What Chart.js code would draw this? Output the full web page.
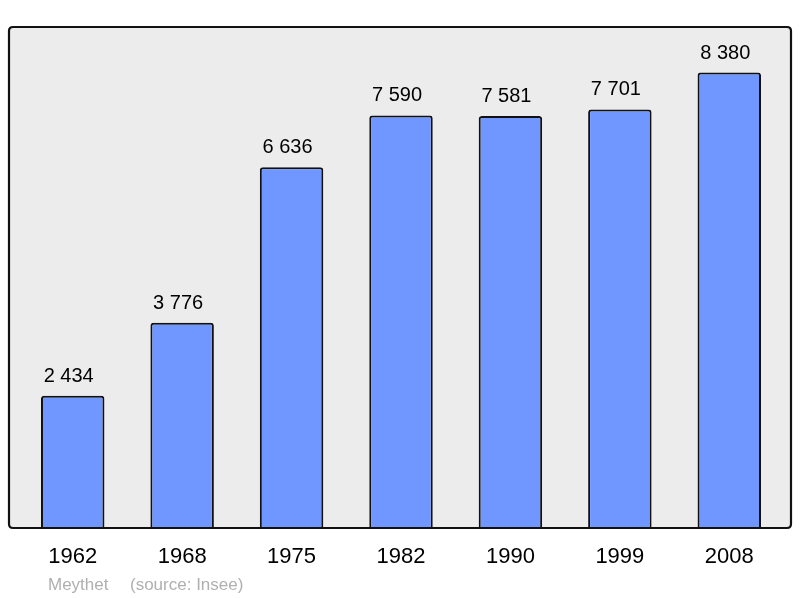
<!DOCTYPE html>
<html>
<head>
<meta charset="utf-8">
<script src="https://cdn.jsdelivr.net/npm/chart.js@4/dist/chart.umd.min.js"></script>
<style>
html,body{margin:0;padding:0;background:#fff;}
#wrap{width:800px;height:598px;}
</style>
</head>
<body>
<div id="wrap"><canvas id="c" width="800" height="598"></canvas></div>
<script>
const years = ["1962","1968","1975","1982","1990","1999","2008"];
const population = [2434, 3776, 6636, 7590, 7581, 7701, 8380];
const footerTexts = ["Meythet", "(source: Insee)"];

function fmt(n){ return String(n).replace(/\B(?=(\d{3})+(?!\d))/g, " "); }

const FONT = "'Liberation Sans', Arial, sans-serif";

const framePlugin = {
  id: 'frame',
  beforeDraw(chart){
    const {ctx, chartArea:a} = chart;
    ctx.save();
    ctx.fillStyle = '#ececec';
    roundRect(ctx, a.left-9, a.top, (a.right+7)-(a.left-9), a.bottom-a.top, 4);
    ctx.fill();
    ctx.restore();
  },
  afterDatasetsDraw(chart){
    const {ctx, chartArea:a} = chart;
    ctx.save();
    ctx.strokeStyle = '#111';
    ctx.lineWidth = 2.2;
    roundRect(ctx, a.left-9, a.top, (a.right+7)-(a.left-9), a.bottom-a.top, 4);
    ctx.stroke();
    // value labels
    const meta = chart.getDatasetMeta(0);
    ctx.fillStyle = '#000';
    ctx.font = '20px ' + FONT;
    ctx.textAlign = 'center';
    ctx.textBaseline = 'alphabetic';
    meta.data.forEach((bar, i) => {
      ctx.fillText(fmt(population[i]), bar.x - 4, bar.y - 14);
    });
    // footer
    ctx.fillStyle = '#b0b0b0';
    ctx.font = '17px ' + FONT;
    ctx.textAlign = 'left';
    ctx.fillText(footerTexts[0], a.left + 30, a.bottom + 62);
    ctx.fillText(footerTexts[1], a.left + 112, a.bottom + 62);
    ctx.restore();
  }
};

function roundRect(ctx, x, y, w, h, r){
  ctx.beginPath();
  ctx.moveTo(x+r, y);
  ctx.lineTo(x+w-r, y);
  ctx.quadraticCurveTo(x+w, y, x+w, y+r);
  ctx.lineTo(x+w, y+h-r);
  ctx.quadraticCurveTo(x+w, y+h, x+w-r, y+h);
  ctx.lineTo(x+r, y+h);
  ctx.quadraticCurveTo(x, y+h, x, y+h-r);
  ctx.lineTo(x, y+r);
  ctx.quadraticCurveTo(x, y, x+r, y);
  ctx.closePath();
}

new Chart(document.getElementById('c'), {
  type: 'bar',
  data: {
    labels: years,
    datasets: [{
      data: population,
      backgroundColor: '#7096ff',
      borderColor: '#111',
      borderWidth: 2,
      borderRadius: 3,
      borderSkipped: 'start',
      barPercentage: 0.58,
      categoryPercentage: 1.0
    }]
  },
  options: {
    responsive: false,
    animation: false,
    devicePixelRatio: 1,
    layout: { padding: { left: 18, right: 16, top: 27, bottom: 0 } },
    plugins: { legend: { display: false }, tooltip: { enabled: false } },
    scales: {
      x: {
        grid: { display: false, drawTicks: false },
        border: { display: false },
        ticks: { color: '#000', font: { family: FONT, size: 22 }, padding: 16 },
        afterFit(scale){ scale.height = 70; }
      },
      y: {
        display: false,
        min: 0,
        max: 9218
      }
    }
  },
  plugins: [framePlugin]
});
</script>
</body>
</html>
